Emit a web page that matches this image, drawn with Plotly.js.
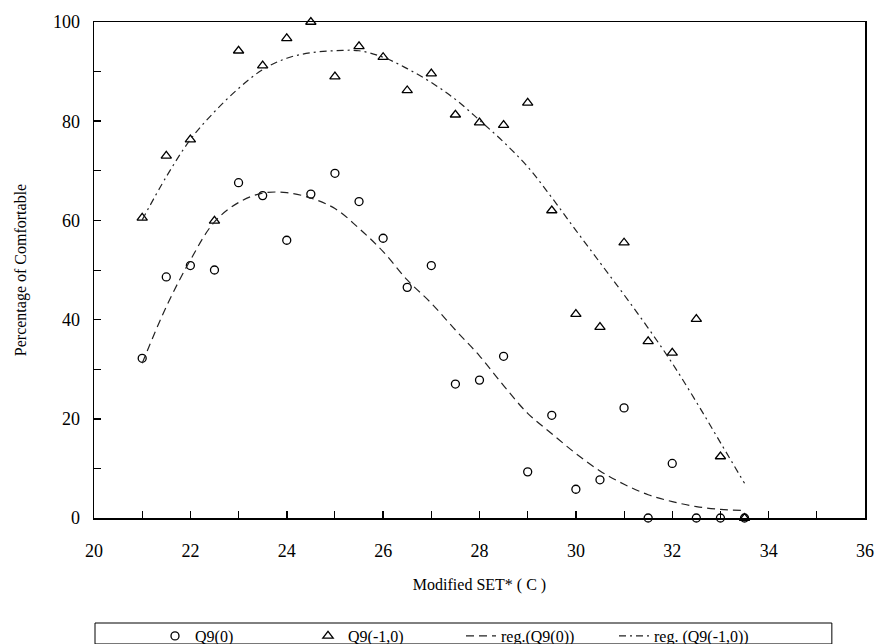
<!DOCTYPE html>
<html>
<head>
<meta charset="utf-8">
<script src="https://cdn.plot.ly/plotly-3.0.1.min.js"></script>
<style>html,body{margin:0;padding:0;background:#fff;}#chart{width:877px;height:644px;}</style>
</head>
<body>
<div id="chart"></div>
<script>
// Modified SET* (C)
var setX = [21, 21.5, 22, 22.5, 23, 23.5, 24, 24.5, 25, 25.5, 26, 26.5, 27, 27.5, 28, 28.5, 29, 29.5, 30, 30.5, 31, 31.5, 32, 32.5, 33, 33.5];
// Q9(0) observed percentage comfortable
var q9_0 = [32.2, 48.6, 50.9, 50.0, 67.6, 65.0, 56.0, 65.3, 69.5, 63.8, 56.4, 46.5, 50.9, 27.0, 27.8, 32.6, 9.3, 20.7, 5.8, 7.7, 22.2, 0, 11.0, 0, 0, 0];
// Q9(-1,0) observed percentage comfortable
var q9_m10 = [60.5, 73.0, 76.3, 59.9, 94.2, 91.2, 96.7, 100, 89.0, 95.1, 92.9, 86.2, 89.6, 81.3, 79.7, 79.2, 83.7, 62.0, 41.1, 38.5, 55.5, 35.6, 33.3, 40.1, 12.4, 0];
// regression curves
var reg_q9_0 = [31.2, 42.6, 52.0, 59.7, 63.6, 65.5, 65.6, 64.5, 62.4, 58.4, 53.7, 48.0, 43.3, 37.9, 32.7, 26.7, 21.1, 17.0, 13.0, 9.5, 6.8, 4.7, 3.3, 2.3, 1.75, 1.5];
var reg_q9_m10 = [60.1, 68.8, 76.3, 81.9, 86.6, 90.4, 92.7, 93.8, 94.2, 94.2, 92.9, 90.6, 87.8, 84.4, 80.2, 75.8, 70.8, 64.6, 58.0, 51.5, 45.0, 38.3, 31.2, 23.4, 15.2, 7.0];
var seriesNames = ['Q9(0)', 'Q9(-1,0)', 'reg.(Q9(0))', 'reg. (Q9(-1,0))'];

var FONT = 'Times New Roman, Times, Liberation Serif, Tinos, DejaVu Serif, serif';

var traces = [
  {x: setX, y: q9_0, name: seriesNames[0], type: 'scatter', mode: 'markers', cliponaxis: false,
   marker: {symbol: 'circle-open', size: 8, color: '#000', line: {width: 1.3, color: '#000'}}},
  {x: setX, y: q9_m10, name: seriesNames[1], type: 'scatter', mode: 'markers', cliponaxis: false,
   marker: {symbol: 'triangle-up-open', size: 9, color: '#000', line: {width: 1.3, color: '#000'}}},
  {x: setX, y: reg_q9_0, name: seriesNames[2], type: 'scatter', mode: 'lines',
   line: {shape: 'spline', smoothing: 1, color: '#222', width: 1.2, dash: '8px,5px'}},
  {x: setX, y: reg_q9_m10, name: seriesNames[3], type: 'scatter', mode: 'lines',
   line: {shape: 'spline', smoothing: 1, color: '#222', width: 1.2, dash: '7px,4px,2px,4px'}}
];

var layout = {
  width: 877, height: 644,
  margin: {l: 94, r: 12, t: 22, b: 126},
  paper_bgcolor: '#fff', plot_bgcolor: '#fff',
  font: {family: FONT, size: 17, color: '#000'},
  showlegend: true,
  xaxis: {
    range: [20, 36], dtick: 2, tick0: 20, ticks: 'inside', ticklen: 7, tickwidth: 1.5, tickcolor: '#000',
    minor: {dtick: 1, ticks: 'inside', ticklen: 7, tickwidth: 1, tickcolor: '#000'},
    showline: true, linecolor: '#000', linewidth: 1.5, mirror: true, showgrid: false, zeroline: false,
    automargin: false, ticklabelstandoff: 16,
    tickfont: {family: FONT, size: 18},
    title: {text: 'Modified SET* ( C )', font: {family: FONT, size: 16}, standoff: 18}
  },
  yaxis: {
    range: [0, 100], dtick: 20, tick0: 0, ticks: 'inside', ticklen: 7, tickwidth: 1.5, tickcolor: '#000',
    minor: {dtick: 10, ticks: 'inside', ticklen: 7, tickwidth: 1, tickcolor: '#000'},
    showline: true, linecolor: '#000', linewidth: 1.5, mirror: true, showgrid: false, zeroline: false,
    automargin: false, ticklabelstandoff: 9,
    tickfont: {family: FONT, size: 18},
    title: {text: 'Percentage of Comfortable', font: {family: FONT, size: 16}, standoff: 22}
  },
  legend: {
    orientation: 'h', xref: 'container', yref: 'container',
    x: 155 / 877, xanchor: 'left', y: 1 - 619 / 644, yanchor: 'top',
    borderwidth: 0, bgcolor: 'rgba(0,0,0,0)',
    font: {family: FONT, size: 16}, entrywidth: 108, entrywidthmode: 'pixels',
    itemwidth: 30
  },
  shapes: [
    {type: 'rect', xref: 'paper', yref: 'paper', x0: 0.0013, x1: 0.957, y0: -0.2117, y1: -0.254,
     line: {color: '#000', width: 1}, fillcolor: 'rgba(0,0,0,0)', layer: 'below'}
  ]
};

Plotly.newPlot('chart', traces, layout, {displayModeBar: false, staticPlot: true});
</script>
</body>
</html>
